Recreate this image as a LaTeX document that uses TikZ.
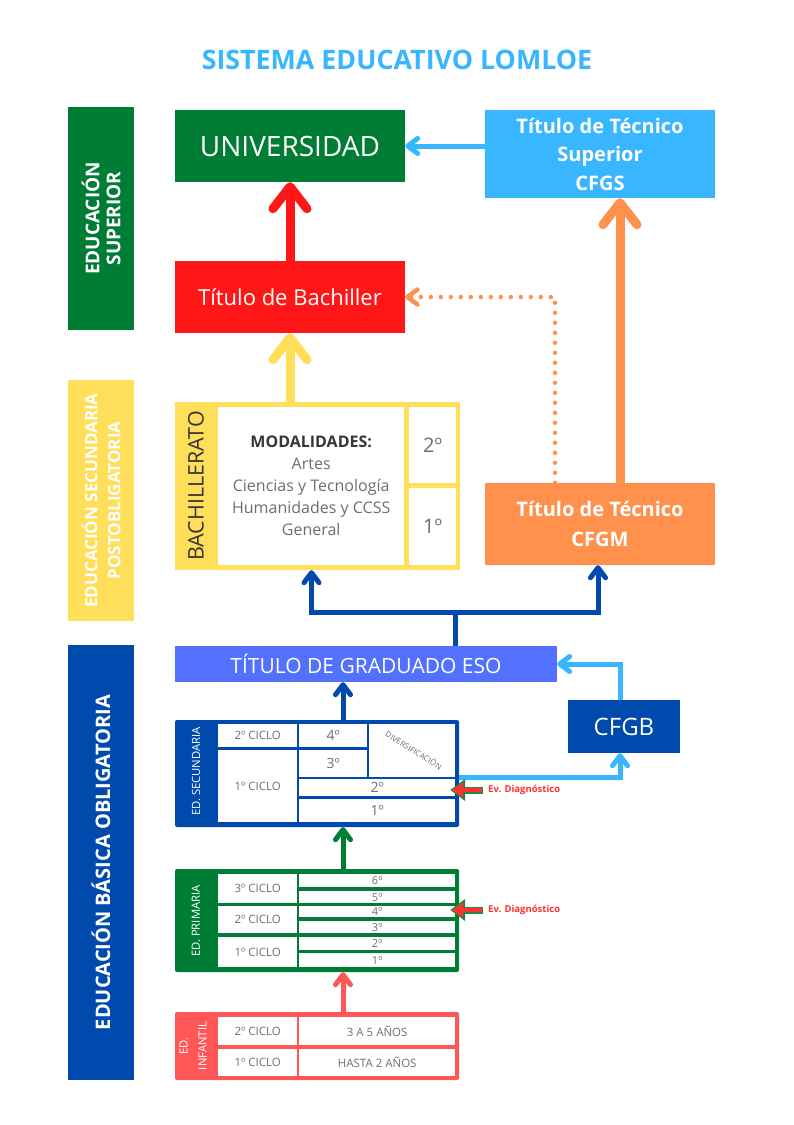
\documentclass[tikz,border=0pt]{standalone}
\usepackage{fontspec}
\setmainfont{Open Sans}
\usetikzlibrary{arrows.meta,positioning,calc}

\definecolor{lomgreen}{HTML}{007D35}
\definecolor{lomred}{HTML}{FF1616}
\definecolor{lomyellow}{HTML}{FFDE59}
\definecolor{lomorange}{HTML}{FF914D}
\definecolor{lomsky}{HTML}{38B6FF}
\definecolor{lomblue}{HTML}{004AAD}
\definecolor{lomviolet}{HTML}{5271FF}
\definecolor{lomsalmon}{HTML}{FF5757}
\definecolor{lomgray}{HTML}{6E6E6E}
\definecolor{lomdark}{HTML}{363636}
\definecolor{evred}{HTML}{FF3131}
\definecolor{evgreen}{HTML}{1F8A3E}

\begin{document}
\begin{tikzpicture}[x=1pt, y=-1pt,
  box/.style={inner sep=0pt, text=white, align=center},
  sidebar/.style={rotate=90, inner sep=0pt, minimum height=66pt, text=white, align=center},
  cell/.style 2 args={fill=white, anchor=north west, inner sep=0pt, minimum width=#1, minimum height=#2, text=lomgray},
  ciclo/.style={font=\fontsize{11.5}{13}\selectfont},
  curso/.style={font=\fontsize{14}{16}\selectfont},
  small curso/.style={font=\fontsize{11}{12}\selectfont},
  bigarrow/.style={line width=9pt, line cap=round, -{Straight Barb[length=22pt,width=34pt,round]}},
  midarrow/.style={line width=5pt, -{Straight Barb[length=10pt,width=15pt,round]}},
  dotarrow/.style={line width=4.5pt, line cap=round, dash pattern=on 0pt off 10pt, -{Straight Barb[length=10pt,width=15pt,round]}},
  evtext/.style={anchor=west, inner sep=0pt, text=evred, font=\bfseries\fontsize{9.5}{11}\selectfont},
]

% background and page size
\fill[white] (0,0) rectangle (793,1125);
\useasboundingbox (0,0) rectangle (793,1125);

% =========================
% TITLE
% =========================
\node[text=lomsky, font=\bfseries\fontsize{26.8}{30}\selectfont] (title) at (397,60) {SISTEMA EDUCATIVO LOMLOE};

% =========================
% SIDE BARS
% =========================
\node[sidebar, fill=lomgreen, minimum width=223pt, font=\bfseries\fontsize{19}{21}\selectfont] (supbar) at (101,218.5) {EDUCACIÓN\\SUPERIOR};
\node[sidebar, fill=lomyellow, minimum width=241pt, font=\bfseries\fontsize{17}{23}\selectfont] (postbar) at (101,500.5) {EDUCACIÓN SECUNDARIA\\POSTOBLIGATORIA};
\node[sidebar, fill=lomblue, minimum width=435pt, font=\bfseries\fontsize{20}{24}\selectfont] (basbar) at (101,862.5) {EDUCACIÓN BÁSICA OBLIGATORIA};

% =========================
% HIGHER EDUCATION
% =========================
\node[box, fill=lomgreen, minimum width=230pt, minimum height=72pt, font=\fontsize{28}{34}\selectfont] (univ) at (290,146) {UNIVERSIDAD};
\node[box, fill=lomsky, minimum width=230pt, minimum height=88pt, font=\bfseries\fontsize{20}{28.5}\selectfont] (cfgs) at (600,154) {Título de Técnico\\Superior\\CFGS};
\node[box, fill=lomred, minimum width=230pt, minimum height=72pt, font=\fontsize{22}{26}\selectfont] (bach) at (290,297) {Título de Bachiller};

% =========================
% BACHILLERATO + CFGM
% =========================
\node[box, fill=lomyellow, minimum width=285pt, minimum height=168pt] (bachblk) at (317.5,486) {};
\node[rotate=90, text=lomdark, font=\fontsize{21.5}{24}\selectfont] (bachband) at (196,486) {BACHILLERATO};
\node[cell={186pt}{158pt}] (bachmain) at (218,407) {};
\node[text=lomgray, align=center, font=\fontsize{16}{22}\selectfont] (modal) at (bachmain.center) {{\bfseries\color{lomdark}MODALIDADES:}\\Artes\\Ciencias y Tecnología\\Humanidades y CCSS\\General};
\node[cell={47pt}{76pt}, font=\fontsize{20}{22}\selectfont] (bach2) at (409,407) {2º};
\node[cell={47pt}{77pt}, font=\fontsize{20}{22}\selectfont] (bach1) at (409,488) {1º};

\node[box, fill=lomorange, minimum width=230pt, minimum height=82pt, font=\bfseries\fontsize{20}{30}\selectfont] (cfgm) at (600,524) {Título de Técnico\\CFGM};

% =========================
% GRADUADO ESO + CFGB
% =========================
\node[box, fill=lomviolet, minimum width=382pt, minimum height=36pt, font=\fontsize{21}{24}\selectfont] (graduado) at (366,664) {TÍTULO DE GRADUADO ESO};
\node[box, fill=lomblue, minimum width=112pt, minimum height=53pt, font=\fontsize{24}{28}\selectfont] (cfgb) at (624,726.5) {CFGB};

% =========================
% SECUNDARIA
% =========================
\node[box, fill=lomblue, rounded corners=2pt, minimum width=284pt, minimum height=107pt] (esoblk) at (317,773.5) {};
\node[rotate=90, text=white, font=\fontsize{11.3}{13}\selectfont] (esoband) at (196,771.5) {ED. SECUNDARIA};
\node[cell={79pt}{23pt}, ciclo] (eso2c) at (218,724) {2º CICLO};
\node[cell={79pt}{72pt}, ciclo] (eso1c) at (218,750) {1º CICLO};
\node[cell={68pt}{23pt}, curso] (eso4) at (299,724) {4º};
\node[cell={68pt}{27pt}, curso] (eso3) at (299,750) {3º};
\node[cell={86pt}{53pt}] (esodiv) at (369,724) {};
\node[rotate=-32, text=lomgray, font=\fontsize{8}{9}\selectfont] (esodivtxt) at (414,750) {DIVERSIFICACIÓN};
\node[cell={156pt}{17pt}, curso] (eso2) at (299,779) {2º};
\node[cell={156pt}{23pt}, curso] (eso1) at (299,799) {1º};

% =========================
% PRIMARIA
% =========================
\node[box, fill=lomgreen, rounded corners=2pt, minimum width=284pt, minimum height=103pt] (primblk) at (317,920.5) {};
\node[rotate=90, text=white, font=\fontsize{11.3}{13}\selectfont] (primband) at (196,921) {ED. PRIMARIA};
\node[cell={79pt}{29pt}, ciclo] (prim3c) at (218,874) {3º CICLO};
\node[cell={79pt}{27pt}, ciclo] (prim2c) at (218,906) {2º CICLO};
\node[cell={79pt}{30pt}, ciclo] (prim1c) at (218,937) {1º CICLO};
\node[cell={156pt}{13pt}, small curso] (prim6) at (299,874) {6º};
\node[cell={156pt}{12pt}, small curso] (prim5) at (299,891) {5º};
\node[cell={156pt}{11pt}, small curso] (prim4) at (299,906) {4º};
\node[cell={156pt}{12pt}, small curso] (prim3) at (299,921) {3º};
\node[cell={156pt}{13pt}, small curso] (prim2) at (299,937) {2º};
\node[cell={156pt}{14pt}, small curso] (prim1) at (299,953) {1º};

% =========================
% INFANTIL
% =========================
\node[box, fill=lomsalmon, rounded corners=2pt, minimum width=284pt, minimum height=68pt] (infblk) at (317,1046) {};
\node[rotate=90, text=white, align=center, font=\fontsize{11.3}{19}\selectfont] (infband) at (193,1046) {ED.\\INFANTIL};
\node[cell={79pt}{28pt}, ciclo] (inf2c) at (218,1017) {2º CICLO};
\node[cell={79pt}{27pt}, ciclo] (inf1c) at (218,1049) {1º CICLO};
\node[cell={156pt}{28pt}, ciclo] (inf35) at (299,1017) {3 A 5 AÑOS};
\node[cell={156pt}{27pt}, ciclo] (inf02) at (299,1049) {HASTA 2 AÑOS};

% =========================
% CONNECTORS
% =========================
\coordinate (col) at (343,0);
\coordinate (fork) at (455,612);
\coordinate (esoout) at (459,777);

% upper level
\draw[midarrow, lomsky] (cfgs.west |- univ) -- (univ.east);
\draw[bigarrow, lomred] (bach.north) -- (univ.south);
\draw[bigarrow, lomorange] ([xshift=20pt]cfgm.north) -- ([xshift=20pt]cfgs.south);
\draw[dotarrow, lomorange] ([xshift=-45pt]cfgm.north) |- (bach.east);
\draw[bigarrow, lomyellow] (bach.south |- bachblk.north) -- (bach.south);

% from graduado
\draw[line width=5pt, lomblue] (graduado.north -| fork) -- (fork);
\draw[midarrow, lomblue] (fork) -| ([xshift=-6pt]bachblk.south);
\draw[midarrow, lomblue] (fork) -| ([xshift=-2pt]cfgm.south);

% CFGB loop
\draw[midarrow, lomsky] (esoout) -| ([xshift=-4pt]cfgb.south);
\draw[midarrow, lomsky] ([xshift=-4pt]cfgb.north) |- (graduado.east);

% basic stages
\draw[midarrow, lomblue] (esoblk.north -| col) -- (graduado.south -| col);
\draw[midarrow, lomgreen] (primblk.north -| col) -- (esoblk.south -| col);
\draw[midarrow, lomsalmon] (infblk.north -| col) -- (primblk.south -| col);

% Ev. Diagnostico
\node[evtext] (ev1) at (488,790) {Ev. Diagnóstico};
\node[evtext] (ev2) at (488,910) {Ev. Diagnóstico};
\foreach \ev in {ev1, ev2} {
  \draw[evgreen, line width=7pt, -{Triangle[length=15pt,width=21pt]}] ([xshift=-5pt]\ev.west) -- ($(\ev.west -| esoblk.east)+(-9,0)$);
  \draw[evred, line width=4pt, shorten >=2pt, -{Triangle[length=11pt,width=15pt]}] ([xshift=-6pt]\ev.west) -- ($(\ev.west -| esoblk.east)+(-9,0)$);
}

\end{tikzpicture}
\end{document}
